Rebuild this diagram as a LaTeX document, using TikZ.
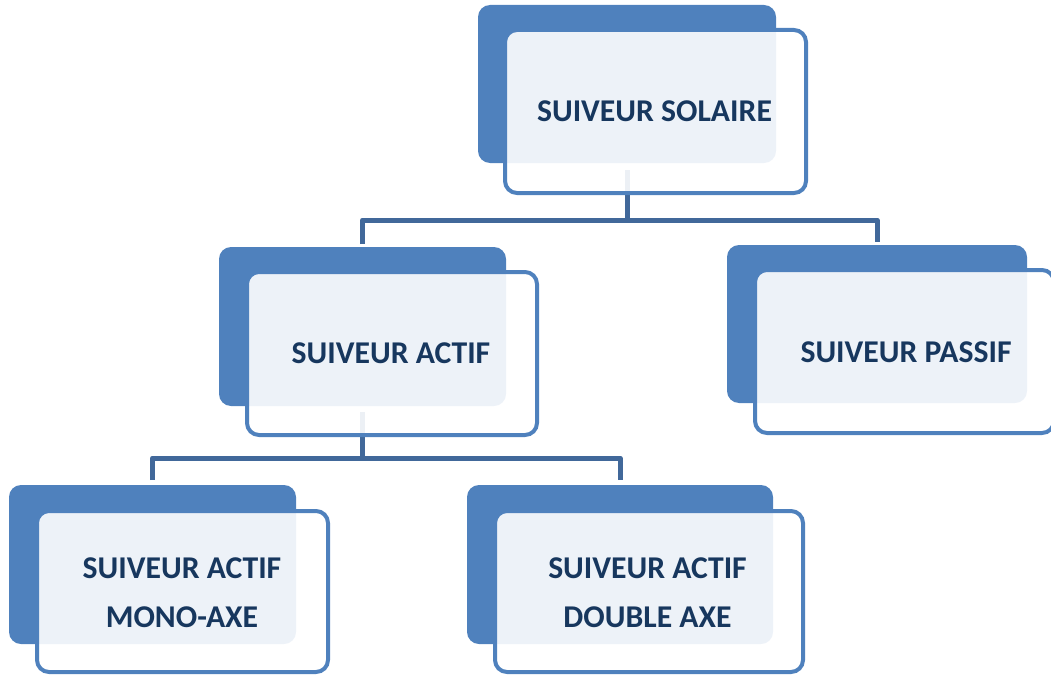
\documentclass[tikz,border=0pt]{standalone}
\usepackage{fontspec}
\setmainfont{Carlito}
\definecolor{boxblue}{HTML}{4F81BD}
\definecolor{connblue}{HTML}{41689A}
\definecolor{navy}{HTML}{17375E}
\tikzset{
  backbox/.style={fill=boxblue, draw=none, rounded corners=12pt, inner sep=0pt, outer sep=0pt},
  frontbox/.style={fill=white, fill opacity=0.9, draw=boxblue, line width=4pt, rounded corners=12pt, inner sep=0pt, outer sep=0pt},
  lbl/.style={text=navy, font=\fontsize{31.7}{49}\selectfont\bfseries, align=center, inner sep=0pt},
  conn/.style={draw=connblue, line width=5pt, line join=round}
}
\begin{document}
\begin{tikzpicture}[x=1pt,y=-1pt]
\useasboundingbox (0,0) rectangle (1051,674);
% back boxes
\node[backbox, minimum width=298pt, minimum height=158pt] (sB) at (627,84) {};
\node[backbox, minimum width=287pt, minimum height=159pt] (aB) at (362.5,326.5) {};
\node[backbox, minimum width=300pt, minimum height=158pt] (pB) at (877,324) {};
\node[backbox, minimum width=287pt, minimum height=159pt] (mB) at (152.5,564.5) {};
\node[backbox, minimum width=306pt, minimum height=159pt] (dB) at (620,564.5) {};
% connectors
\coordinate (j1) at (627,220);
\coordinate (j2) at (362.5,458);
\draw[conn] ([yshift=-7pt]sB.south) -- (j1);
\draw[conn] ([yshift=3pt]aB.north) |- (j1) -| ([yshift=3pt]pB.north);
\draw[conn] ([yshift=-6pt]aB.south) -- (j2);
\draw[conn] ([yshift=5pt]mB.north) |- (j2) -| ([yshift=5pt]dB.north);
% front boxes
\node[frontbox, minimum width=301pt, minimum height=163pt] (sF) at (655.5,111.5) {};
\node[frontbox, minimum width=290pt, minimum height=163pt] (aF) at (392,353.5) {};
\node[frontbox, minimum width=299pt, minimum height=163pt] (pF) at (904.5,351.5) {};
\node[frontbox, minimum width=291pt, minimum height=161pt] (mF) at (182.5,591.5) {};
\node[frontbox, minimum width=308pt, minimum height=161pt] (dF) at (649,591.5) {};
% labels
\node[lbl] (sT) at (654.5,111) {SUIVEUR SOLAIRE};
\node[lbl] (aT) at (391,353) {SUIVEUR ACTIF};
\node[lbl] (pT) at (906,352) {SUIVEUR PASSIF};
\node[lbl] (mT) at (182,592.5) {SUIVEUR ACTIF\\MONO-AXE};
\node[lbl] (dT) at (647.5,592.5) {SUIVEUR ACTIF\\DOUBLE AXE};
\end{tikzpicture}
\end{document}
